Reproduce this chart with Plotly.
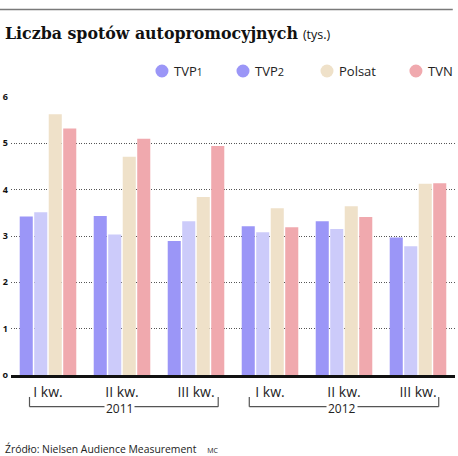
import plotly.graph_objects as go

quarters = ["I kw.", "II kw.", "III kw.", "I kw.", "II kw.", "III kw."]
years = ["2011", "2012"]
tvp1 = [3.42, 3.43, 2.89, 3.21, 3.32, 2.97]
tvp2 = [3.51, 3.03, 3.32, 3.08, 3.15, 2.78]
polsat = [5.63, 4.71, 3.84, 3.60, 3.64, 4.13]
tvn = [5.32, 5.10, 4.94, 3.19, 3.41, 4.14]
y_ticks = [0, 1, 2, 3, 4, 5, 6]
y_ticktext = ["o", "1", "2", "3", "4", "5", "6"]

# name, values, bar colour, legend dot colour, legend label
series = [("TVP1", tvp1, "#9b96f7", "#9b96f7", "TVP<span style='font-size:10px'>1</span>"),
          ("TVP2", tvp2, "#cccbfa", "#9b96f7", "TVP<span style='font-size:11px'>2</span>"),
          ("Polsat", polsat, "#efe1c9", "#efe1c9", "Polsat"),
          ("TVN", tvn, "#f0a9ae", "#f0a9ae", "TVN")]
legend_x = [0.340, 0.5225, 0.7117, 0.912]   # paper x of legend dots

xpos = list(range(len(quarters)))
SANS = "Open Sans"
PW, PH = 444.0, 278.0   # plot area size in px, used to keep legend dots round

fig = go.Figure()
for name, vals, col, leg_col, leg_txt in series:
    fig.add_trace(go.Bar(x=xpos, y=vals, name=name, marker_color=col,
                         marker_line_width=0, showlegend=False))

shapes = [dict(type="line", xref="paper", yref="paper", x0=-0.025, x1=0.995,
               y0=1.315, y1=1.315, line=dict(color="#7a7a7a", width=1.5))]
annotations = []

# legend built by hand so it does not push the margins
ly = 1.0935
for (name, vals, col, leg_col, leg_txt), lx in zip(series, legend_x):
    rx, ry = 6.5 / PW, 6.5 / PH
    shapes.append(dict(type="circle", xref="paper", yref="paper",
                       x0=lx - rx, x1=lx + rx, y0=ly - ry, y1=ly + ry,
                       fillcolor=leg_col, line=dict(width=0)))
    annotations.append(dict(x=lx + 10 / PW, y=ly, xref="paper", yref="paper",
                            xanchor="left", yanchor="middle", showarrow=False,
                            text=leg_txt, font=dict(family=SANS, size=13, color="#222")))

# year brackets under the quarter labels
spans = [(-0.25, 2.3, 0.97), (2.72, 5.28, 3.97)]
for (a, b, mid), yr in zip(spans, years):
    for xx in (a, b):
        shapes.append(dict(type="line", xref="x", yref="paper", x0=xx, x1=xx,
                           y0=-0.079, y1=-0.114, line=dict(color="#555", width=1.2)))
    shapes.append(dict(type="line", xref="x", yref="paper", x0=a, x1=b,
                       y0=-0.114, y1=-0.114, line=dict(color="#555", width=1.2)))
    annotations.append(dict(x=mid, y=-0.12, xref="x", yref="paper", text=yr,
                            xanchor="center", yanchor="middle",
                            showarrow=False, bgcolor="white", borderpad=1,
                            font=dict(family=SANS, size=12, color="#222")))

annotations += [
    dict(x=-0.018, y=1.23, xref="paper", yref="paper", xanchor="left", yanchor="middle",
         showarrow=False,
         text="<b>Liczba spotów autopromocyjnych</b> "
              "<span style='font-family:Open Sans;font-size:12.5px'>(tys.)</span>",
         font=dict(family="DejaVu Serif", size=15.8, color="#111")),
    dict(x=-0.018, y=-0.266, xref="paper", yref="paper", xanchor="left", yanchor="middle",
         showarrow=False,
         text="Źródło: Nielsen Audience Measurement"
              "&nbsp;&nbsp;&nbsp;&nbsp;<span style='font-size:7px'>MC</span>",
         font=dict(family=SANS, size=10.4, color="#222")),
]

fig.update_layout(
    width=458, height=456,
    margin=dict(l=11, r=3, t=97, b=81),
    paper_bgcolor="white", plot_bgcolor="white",
    barmode="group", bargap=0.216, bargroupgap=0.1,
    showlegend=False,
    xaxis=dict(tickvals=xpos, ticktext=quarters, range=[-0.5, 5.5],
               showgrid=False, zeroline=False, showline=True, linecolor="#111",
               linewidth=2.5, ticks="", layer="below traces", ticklabelstandoff=2,
               tickfont=dict(family=SANS, size=14, color="#222"),
               automargin=False, fixedrange=True),
    yaxis=dict(range=[0, 6], tickvals=y_ticks, ticktext=y_ticktext,
               showgrid=True, gridcolor="#555", gridwidth=1, griddash="1px,1.5px",
               zeroline=False, showline=False, ticks="", layer="below traces",
               ticklabelstandoff=2,
               tickfont=dict(family=SANS, size=9, color="#111", weight="bold"),
               automargin=False, fixedrange=True),
    shapes=shapes, annotations=annotations,
)

# page body has a default 8px margin; drop it so the figure sits at 0,0
fig.write_html("out.html", config={"displayModeBar": False},
               post_script="document.body.style.margin='0';")
